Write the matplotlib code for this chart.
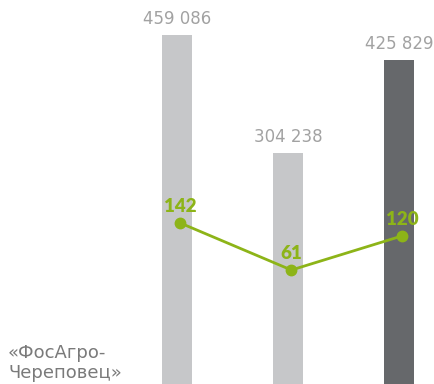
import matplotlib
matplotlib.use("Agg")
import matplotlib.pyplot as plt

categories = ["2019", "2020", "2021"]
bar_values = [459086, 304238, 425829]
bar_labels = ["459 086", "304 238", "425 829"]
line_values = [142, 61, 120]
bar_colors = ["#c6c7c9", "#c6c7c9", "#66686b"]
green = "#8db418"
side_label_lines = ["«ФосАгро-", "Череповец»"]

plt.rcParams['font.family'] = ['DejaVu Sans']

fig = plt.figure(figsize=(4.34, 3.84), dpi=100)
ax = fig.add_axes([0, 0, 1, 1])
x = list(range(len(categories)))
ax.bar(x, bar_values, width=0.27, color=bar_colors)
ax.set_xlim(-1.595, 2.315)
ax.set_ylim(0, 505117)
ax.axis("off")
for xi, v, lab in zip(x, bar_values, bar_labels):
    ax.annotate(lab, (xi, v), xytext=(0, 7.8), textcoords="offset points",
                ha="center", va="baseline", fontsize=12, color="#a2a2a2")

ax2 = ax.twinx()
ax2.set_ylim(-135.5, 526.6)
ax2.axis("off")
lx = [xi + 0.03 for xi in x]
ax2.plot(lx, line_values, color=green, lw=2, marker="o", ms=7.5)
for xi, v in zip(lx, line_values):
    ax2.annotate(str(v), (xi, v), xytext=(0, 8), textcoords="offset points",
                 ha="center", va="baseline", fontsize=13.5, color=green,
                 fontweight="heavy", family=["Lato", "DejaVu Sans"])

for i, line in enumerate(side_label_lines):
    fig.text(8 / 434, 1 - (358 + 20 * i) / 384, line, ha="left", va="baseline",
             fontsize=13, color="#7a7a7a")

fig.savefig("out.png", dpi=100)
